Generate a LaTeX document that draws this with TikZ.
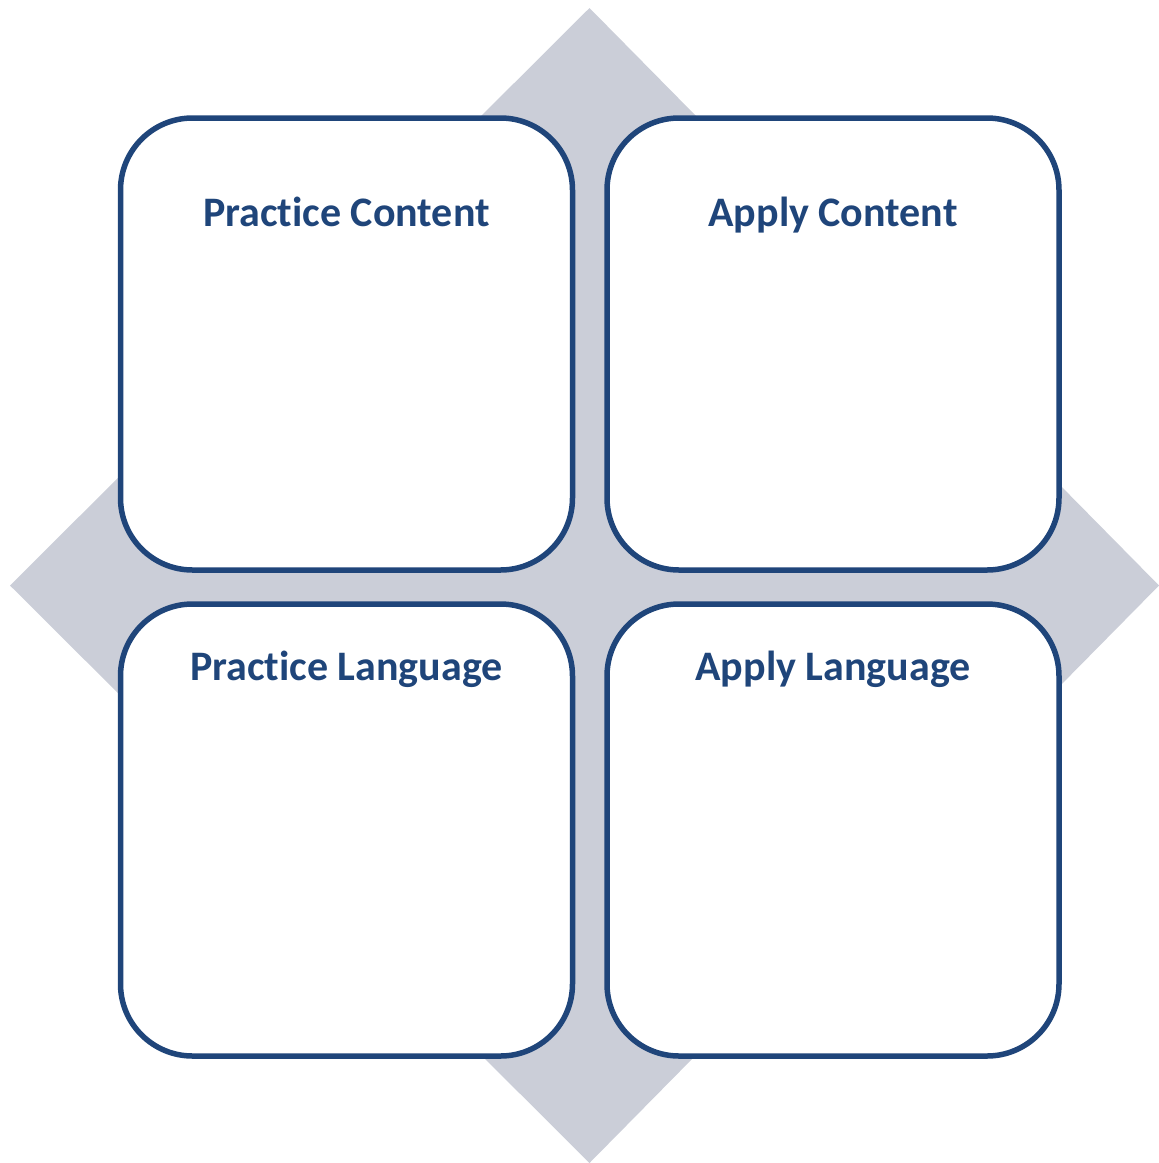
\documentclass[tikz,border=0pt]{standalone}
\usepackage{fontspec}
\setmainfont{Carlito}[Ligatures={NoCommon}]
\definecolor{navy}{RGB}{31,69,122}
\definecolor{diamondgrey}{RGB}{203,206,216}
\begin{document}
\begin{tikzpicture}[x=1pt,y=-1pt,
  box/.style={draw=navy, line width=5.5pt, fill=white, rounded corners=72pt,
    minimum width=452pt, minimum height=452pt, inner sep=0pt},
  title/.style={anchor=base, text=navy, font=\fontsize{42}{50}\selectfont\bfseries, inner sep=0pt}]
\useasboundingbox (0,0) rectangle (1159,1163);
\fill[diamondgrey] (589.5,8) -- (1159,585.5) -- (589.5,1163) -- (10,585.5) -- cycle;
\node[box] (tl) at (346.5,344) {};
\node[box] (tr) at (833,344) {};
\node[box] (bl) at (346.5,830) {};
\node[box] (br) at (833,830) {};
\node[title] (tlt) at (346.5,226) {Practice Content};
\node[title] (trt) at (833,226) {Apply Content};
\node[title] (blt) at (346.5,680) {Practice Language};
\node[title] (brt) at (833,680) {Apply Language};
\end{tikzpicture}
\end{document}
